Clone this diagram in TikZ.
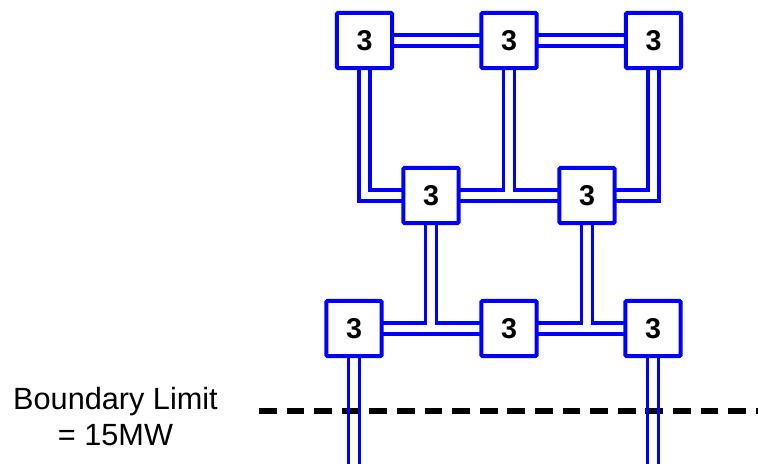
\documentclass[tikz,border=0pt]{standalone}
\usepackage{fontspec}
\setmainfont{Liberation Sans}
\definecolor{netblue}{RGB}{0,0,255}
\pgfdeclarelayer{pipes}
\pgfsetlayers{pipes,main}
\newcommand\netpipes[1]{%
  \draw[#1] (t1.center) -- (t2.center) -- (t3.center);
  \draw[#1] (t1.center) |- (m1.center);
  \draw[#1] (t3.center) |- (m2.center);
  \draw[#1] (m1.center) -- (m2.center);
  \draw[#1] (t2.center) -- (t2 |- m1);
  \draw[#1] (b1.center) -- (b2.center) -- (b3.center);
  \draw[#1] (m1.center) -- (m1 |- b1);
  \draw[#1] (m2.center) -- (m2 |- b1);
}
\begin{document}
\begin{tikzpicture}[x=0.75pt,y=-0.75pt,
  unit/.style={draw=netblue, line width=3pt, fill=white, minimum size=41.6pt,
    inner sep=0pt, rounded corners=1pt, font=\fontsize{21.5}{21.5}\selectfont\bfseries},
  pipeouter/.style={draw=netblue, line width=11.1pt, line join=miter},
  pipeinner/.style={draw=white, line width=5.4pt, line join=miter},
  lead/.style={draw=netblue, line width=2.6pt},
  limit/.style={draw=black, line width=4.3pt, dash pattern=on 13.3pt off 7.4pt},
  caption/.style={font=\fontsize{23}{27}\selectfont, anchor=base, inner sep=0pt}]
\useasboundingbox (0,0) rectangle (758,464);

% units
\node[unit] (t1) at (364.5,40.5) {3};
\node[unit] (t2) at (509,40.5) {3};
\node[unit] (t3) at (653.5,40.5) {3};
\node[unit] (m1) at (431,195.5) {3};
\node[unit] (m2) at (587,195.5) {3};
\node[unit] (b1) at (354,328.5) {3};
\node[unit] (b2) at (509,328.5) {3};
\node[unit] (b3) at (653,328.5) {3};

% double links between units
\begin{pgfonlayer}{pipes}
  \netpipes{pipeouter}
  \netpipes{pipeinner}
\end{pgfonlayer}

% boundary limit
\node[caption] (cap1) at (115.5,409) {Boundary Limit};
\node[caption] (cap2) at (115.5,445) {= 15MW};
\coordinate (lim0) at (259,411);
\coordinate (lim1) at (762,411);
\draw[limit] (lim0) -- (lim1);

% feeders leaving the bottom units
\coordinate (e1) at (354,470);
\coordinate (e3) at (653,470);
\draw[lead] ([xshift=-4.2pt]b1.south) -- ([xshift=-4.2pt]e1);
\draw[lead] ([xshift=4.2pt]b1.south) -- ([xshift=4.2pt]e1);
\draw[lead] ([xshift=-4.2pt]b3.south) -- ([xshift=-4.2pt]e3);
\draw[lead] ([xshift=4.2pt]b3.south) -- ([xshift=4.2pt]e3);
\end{tikzpicture}
\end{document}
